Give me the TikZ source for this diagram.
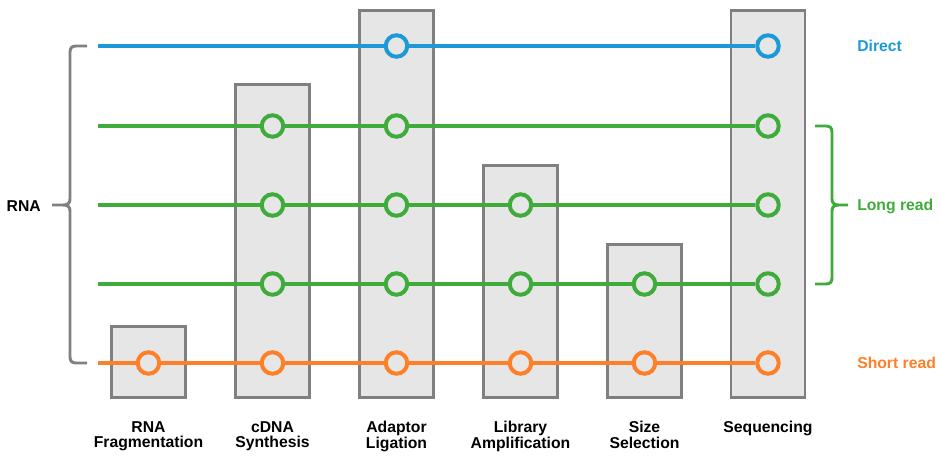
\documentclass[tikz,border=0pt]{standalone}
\usepackage{fontspec}
\setmainfont{Liberation Sans}
\definecolor{directblue}{HTML}{1B9AD7}
\definecolor{longgreen}{HTML}{3FAB3A}
\definecolor{shortorange}{HTML}{FD7F28}
\definecolor{edgegray}{HTML}{808080}
\definecolor{fillgray}{HTML}{E6E6E6}
\tikzset{
  stagebox/.style={draw=edgegray,fill=fillgray,line width=2.1pt,
    minimum width=74*0.75pt,inner sep=0pt,anchor=south},
  hit/.style={circle,draw=#1,fill=fillgray,line width=3pt,
    minimum size=21.5*0.75pt,inner sep=0pt},
  wire/.style={line width=3pt},
  bracket/.style={line width=2.2pt},
  tag/.style={font=\bfseries\fontsize{11.8}{11.6}\selectfont,inner sep=0pt}
}
\begin{document}
\begin{tikzpicture}[x=0.75pt,y=-0.75pt]
\useasboundingbox (0,0) rectangle (940,455);
% stage boxes
\foreach \n/\x/\ytop in {1/148.5/327.5,2/272.5/86,3/396.5/12,4/520.5/167,5/644.5/246,6/768/12}
  {\node[stagebox,minimum height={(398.5-\ytop)*0.75pt}] (box\n) at (\x,398.5) {};}
% stage names
\foreach \n/\t in {1/{RNA\\Fragmentation},2/{cDNA\\Synthesis},3/{Adaptor\\Ligation},
                   4/{Library\\Amplification},5/{Size\\Selection},6/Sequencing}
  {\node[tag,align=center,anchor=north] (name\n) at (box\n.south |- 0,421) {\t};}
% row starts
\coordinate (in1) at (98,46);
\coordinate (in2) at (98,126);
\coordinate (in3) at (98,205);
\coordinate (in4) at (98,284);
\coordinate (in5) at (98,363);
% hits
\foreach \c in {3,6}
  {\node[hit=directblue] (d\c) at (box\c.south |- in1) {};}
\foreach \c in {2,3,6}
  {\node[hit=longgreen] (la\c) at (box\c.south |- in2) {};}
\foreach \c in {2,3,4,6}
  {\node[hit=longgreen] (lb\c) at (box\c.south |- in3) {};}
\foreach \c in {2,...,6}
  {\node[hit=longgreen] (lc\c) at (box\c.south |- in4) {};}
\foreach \c in {1,...,6}
  {\node[hit=shortorange] (s\c) at (box\c.south |- in5) {};}
% wires
\draw[wire,directblue] (in1) -- (d3) -- (d6);
\draw[wire,longgreen] (in2) -- (la2) -- (la3) -- (la6);
\draw[wire,longgreen] (in3) -- (lb2) -- (lb3) -- (lb4) -- (lb6);
\draw[wire,longgreen] (in4) -- (lc2) -- (lc3) -- (lc4) -- (lc5) -- (lc6);
\draw[wire,shortorange] (in5) -- (s1) -- (s2) -- (s3) -- (s4) -- (s5) -- (s6);
% braces
\draw[bracket,edgegray] (87,46) -- (76,46) .. controls (72,46) and (70,48) .. (70,52)
  -- (70,199) .. controls (70,203) and (68,205) .. (63,205) -- (52,205)
  (63,205) .. controls (68,205) and (70,207) .. (70,211)
  -- (70,357) .. controls (70,361) and (72,363) .. (76,363) -- (87,363);
\draw[bracket,longgreen] (815,126) -- (826,126) .. controls (830,126) and (832,128) .. (832,132)
  -- (832,199) .. controls (832,203) and (834,205) .. (839,205) -- (848,205)
  (839,205) .. controls (834,205) and (832,207) .. (832,211)
  -- (832,278) .. controls (832,282) and (830,284) .. (826,284) -- (815,284);
% labels
\node[tag,anchor=base east] (rna) at (41,211) {RNA};
\node[tag,anchor=base west,text=directblue] (direct) at (857,51.5) {Direct};
\node[tag,anchor=base west,text=longgreen] (long) at (857,210.5) {Long read};
\node[tag,anchor=base west,text=shortorange] (short) at (857,368.5) {Short read};
\end{tikzpicture}
\end{document}
